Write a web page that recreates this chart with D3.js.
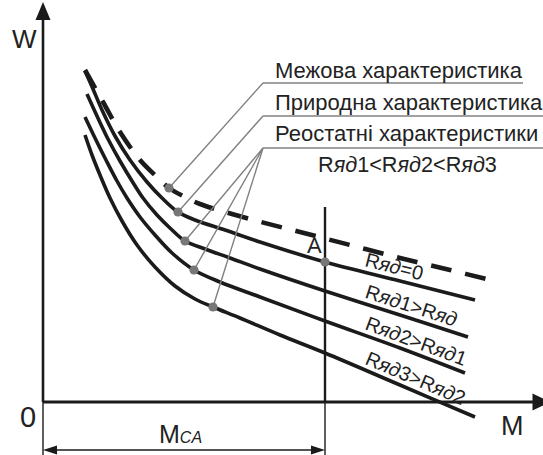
<!DOCTYPE html>
<html><head><meta charset="utf-8">
<script src="https://cdn.jsdelivr.net/npm/d3@7"></script>
<style>html,body{margin:0;padding:0;background:#fff;} svg{display:block;}</style>
</head><body>
<svg id="c" width="543" height="455"></svg>
<script>
// ---------------- data ----------------
const limitM   = [8.4, 12, 15.4, 19.4, 22.8, 25.2, 28.4, 31.4, 41.4, 51.4, 61.4, 71.4, 81.4, 89.4];
const limitW   = [83, 75, 67.5, 60.5, 56.25, 53.5, 51.25, 49.5, 45.75, 42.5, 39.25, 36, 33, 30.5];
const naturalM = [8.4, 10, 11.8, 14.4, 17.4, 20.8, 23.8, 27, 30.4, 36.4, 43.4, 56.4, 71.4, 86.4];
const naturalW = [82.75, 78.25, 73, 66.5, 60.5, 55, 51, 47.5, 45.5, 43, 40, 35, 30.25, 25.5];
const rheo1M   = [8.8, 10.8, 13, 15.4, 17.8, 20, 22.8, 25.6, 28.4, 32.4, 37.4, 43.4, 56.4, 71.4, 85];
const rheo1W   = [77, 71.5, 65.75, 60.25, 55.25, 51, 46.75, 43.25, 40.25, 38.25, 36, 33.25, 27.75, 21.75, 16.25];
const rheo2M   = [8.4, 10.4, 12.6, 14.8, 16.8, 19.4, 22.4, 25.8, 30.2, 35.4, 43.4, 56.4, 71.4, 84.4];
const rheo2W   = [71.25, 66, 60.5, 55.25, 51, 46.25, 41.75, 37.25, 33, 30, 26.25, 20.25, 13.5, 7.25];
const rheo3M   = [8.4, 9.8, 11.4, 13.4, 15.8, 18.8, 22.4, 26.4, 30.4, 34, 39.4, 47.4, 56.4, 71.4, 86.4];
const rheo3W   = [66.75, 61.75, 56.75, 51, 45.25, 39.25, 33.75, 29, 25.75, 23.75, 21, 16.75, 12.25, 4.25, -3.75];
// points where the leader lines touch the curves: limit, natural, rheo1..3
const markM = [25.2, 27, 28.4, 30.2, 34];
const markW = [53.5, 47.5, 40.25, 33, 23.75];
// operating point A
const pointA_M = 56.4, pointA_W = 35;
const legendTexts = ["Межова характеристика", "Природна характеристика", "Реостатні характеристики"];
const legendNote = "R{яд}1<R{яд}2<R{яд}3";
const curveLabels = ["R{яд}=0", "R{яд}1>R{яд}", "R{яд}2>R{яд}1", "R{яд}3>R{яд}2"];
const axisLabelY = "W", axisLabelX = "M", originLabel = "0", pointLabel = "A";
const dimLabelMain = "M", dimLabelSub = "CA";

// ---------------- layout ----------------
const svg = d3.select("#c");
const x = d3.scaleLinear().domain([0, 100]).range([43, 543]);
const y = d3.scaleLinear().domain([0, 100]).range([402, 2]);
const INK = "#1b1b1b", GREY = "#808080", TXT = "#222";
const FONT = "'Liberation Sans', Arial, sans-serif";

const zip = (a, b) => a.map((v, i) => [v, b[i]]);
const curves = [
  {pts: zip(limitM, limitW), dashed: true},
  {pts: zip(naturalM, naturalW)},
  {pts: zip(rheo1M, rheo1W)},
  {pts: zip(rheo2M, rheo2W)},
  {pts: zip(rheo3M, rheo3W)}
];
const line = d3.line().x(d => x(d[0])).y(d => y(d[1])).curve(d3.curveCatmullRom.alpha(0.5));

// axes
const yTop = y(100), arrowL = 18;
svg.append("line").attr("x1", x(0)).attr("x2", x(0)).attr("y1", y(0)).attr("y2", yTop + arrowL - 1)
  .attr("stroke", INK).attr("stroke-width", 2.6);
svg.append("line").attr("x1", x(0)).attr("x2", x(0)).attr("y1", y(0)).attr("y2", 455)
  .attr("stroke", INK).attr("stroke-width", 1.4);
svg.append("path").attr("d", `M${x(0)},${yTop} L${x(0) - 7.5},${yTop + arrowL} L${x(0) + 7.5},${yTop + arrowL} Z`).attr("fill", INK);
const xTip = x(101.5);
svg.append("line").attr("x1", x(0)).attr("x2", xTip - arrowL + 1).attr("y1", y(0)).attr("y2", y(0))
  .attr("stroke", INK).attr("stroke-width", 2.8);
svg.append("path").attr("d", `M${xTip},${y(0)} L${xTip - arrowL},${y(0) - 8.5} L${xTip - arrowL},${y(0) + 8.5} Z`).attr("fill", INK);

// vertical through A and dimension
const xA = x(pointA_M);
svg.append("line").attr("x1", xA).attr("x2", xA).attr("y1", y(48.75)).attr("y2", y(0))
  .attr("stroke", INK).attr("stroke-width", 2.4);
svg.append("line").attr("x1", xA).attr("x2", xA).attr("y1", y(0)).attr("y2", 455)
  .attr("stroke", INK).attr("stroke-width", 1.4);
const yDim = y(-12);
svg.append("line").attr("x1", x(0) + 10).attr("x2", xA - 10).attr("y1", yDim).attr("y2", yDim)
  .attr("stroke", INK).attr("stroke-width", 1.6);
svg.append("path").attr("d", `M${x(0)},${yDim} L${x(0) + 14},${yDim - 4.5} L${x(0) + 14},${yDim + 4.5} Z`).attr("fill", INK);
svg.append("path").attr("d", `M${xA},${yDim} L${xA - 14},${yDim - 4.5} L${xA - 14},${yDim + 4.5} Z`).attr("fill", INK);

// curves
curves.forEach(c => {
  svg.append("path").attr("d", line(c.pts)).attr("fill", "none").attr("stroke", INK)
    .attr("stroke-width", c.dashed ? 4.6 : 3.6)
    .attr("stroke-dasharray", c.dashed ? "21 14" : null);
});

// leader lines
const kneeX = x(44);
const legendY = [y(79.75), y(71.5), y(63.5)];
const underlineEnd = [x(96), x(101), x(101)];
const leaderIdx = [[0], [1], [2, 3, 4]];
leaderIdx.forEach((ids, k) => {
  svg.append("line").attr("x1", kneeX).attr("x2", underlineEnd[k]).attr("y1", legendY[k]).attr("y2", legendY[k])
    .attr("stroke", GREY).attr("stroke-width", 1.4);
  ids.forEach(i => {
    svg.append("line").attr("x1", kneeX).attr("y1", legendY[k]).attr("x2", x(markM[i])).attr("y2", y(markW[i]))
      .attr("stroke", GREY).attr("stroke-width", 1.4);
  });
});
markM.forEach((m, i) => {
  svg.append("circle").attr("cx", x(m)).attr("cy", y(markW[i])).attr("r", 4.6).attr("fill", "#777");
});
svg.append("circle").attr("cx", xA).attr("cy", y(pointA_W)).attr("r", 4.6).attr("fill", "#777");

// rich text helper: {..} => italic
function rich(sel, str) {
  str.split(/(\{[^}]*\})/).filter(s => s.length).forEach(s => {
    const it = s.startsWith("{");
    sel.append("tspan").text(it ? s.slice(1, -1) : s).attr("font-style", it ? "italic" : null);
  });
  return sel;
}

// legend texts, sized to fit their measured widths
const legendBase = [x(46.4), x(46.4), x(46.4)];
const legendBaseline = [78, 110, 141];
const t0 = svg.append("text").attr("font-family", FONT).attr("font-size", 20).text(legendTexts[0]);
const legendFS = 20 * 247 / t0.node().getComputedTextLength();
t0.remove();
legendTexts.forEach((t, k) => {
  svg.append("text").attr("x", legendBase[k]).attr("y", legendBaseline[k]).attr("font-family", FONT)
    .attr("font-size", legendFS).attr("fill", TXT).text(t);
});
const note = rich(svg.append("text").attr("font-family", FONT).attr("font-size", 20).attr("fill", TXT), legendNote);
const noteFS = 20 * 179 / note.node().getComputedTextLength();
note.attr("font-size", noteFS).attr("x", 318).attr("y", 172);

// curve labels
function curveYAt(pts, m) {
  for (let i = 0; i < pts.length - 1; i++) {
    if (m >= pts[i][0] && m <= pts[i + 1][0]) {
      const t = (m - pts[i][0]) / (pts[i + 1][0] - pts[i][0]);
      return y(pts[i][1] + t * (pts[i + 1][1] - pts[i][1]));
    }
  }
  return y(pts[pts.length - 1][1]);
}
const labelM = 64.2;
curveLabels.forEach((lab, k) => {
  const pts = curves[k + 1].pts;
  const a = pts[pts.length - 3], b = pts[pts.length - 1];
  const ang = Math.atan2(y(b[1]) - y(a[1]), x(b[0]) - x(a[0])) * 180 / Math.PI;
  const lx = x(labelM), ly = curveYAt(pts, labelM) - 6;
  rich(svg.append("text").attr("font-family", FONT).attr("font-size", 20).attr("fill", TXT)
    .attr("transform", `translate(${lx},${ly}) rotate(${ang})`), lab);
});

// axis labels
svg.append("text").attr("x", 12).attr("y", 48).attr("font-family", FONT).attr("font-size", 26).attr("fill", TXT).text(axisLabelY);
svg.append("text").attr("x", 501).attr("y", 435).attr("font-family", FONT).attr("font-size", 27).attr("fill", TXT).text(axisLabelX);
svg.append("text").attr("x", 20).attr("y", 427).attr("font-family", FONT).attr("font-size", 29).attr("fill", TXT).text(originLabel);
svg.append("text").attr("x", 307).attr("y", 253).attr("font-family", FONT).attr("font-size", 22).attr("fill", TXT).text(pointLabel);
const dim = svg.append("text").attr("x", 159).attr("y", 443).attr("font-family", FONT).attr("fill", TXT);
dim.append("tspan").attr("font-size", 25).text(dimLabelMain);
dim.append("tspan").attr("font-size", 16).attr("font-style", "italic").text(dimLabelSub);
</script>
</body></html>
